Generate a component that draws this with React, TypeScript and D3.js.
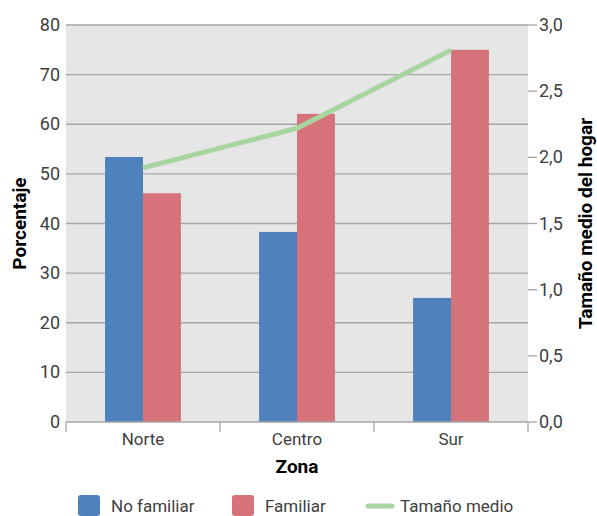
import React from 'react';
import * as d3 from 'd3';

const zonas = ['Norte', 'Centro', 'Sur'];
const noFamiliar = [53.4, 38.3, 25.0];
const familiar = [46.1, 62.1, 75.0];
const tamanoMedio = [1.92, 2.22, 2.81];
const leftTicks = [0, 10, 20, 30, 40, 50, 60, 70, 80];
const rightTicks = [0, 0.5, 1, 1.5, 2, 2.5, 3];

const W = 597;
const H = 516;
const margin = { top: 25, right: 69, bottom: 94, left: 66 };

const BLUE = '#4f81bd';
const RED = '#d6737a';
const GREEN = '#a8d4a0';
const TICK_FONT = 'Roboto, "Open Sans", sans-serif';

export default function App() {
  const x0 = margin.left;
  const x1 = W - margin.right;
  const y0 = H - margin.bottom;
  const y1 = margin.top;

  const xBand = d3.scaleBand<string>().domain(zonas).range([x0, x1]).paddingInner(0).paddingOuter(0);
  const inner = d3.scaleBand<string>().domain(['nf', 'f']).range([0, xBand.bandwidth()]).paddingInner(0).paddingOuter(1.03);
  const yLeft = d3.scaleLinear().domain([0, 80]).range([y0, y1]);
  const yRight = d3.scaleLinear().domain([0, 3]).range([y0, y1]);

  const line = d3
    .line<number>()
    .x((_, i) => (xBand(zonas[i]) || 0) + xBand.bandwidth() / 2)
    .y((d) => yRight(d));

  const fmtRight = (v: number) => v.toFixed(1).replace('.', ',');
  const bottomTicks = [x0, ...zonas.map((z) => (xBand(z) || 0) + xBand.bandwidth())];

  return (
    <svg width={W} height={H} style={{ position: 'absolute', left: 0, top: 0, background: '#fff' }}>
      <rect x={x0} y={y1} width={x1 - x0} height={y0 - y1} fill="#e6e6e6" />
      {leftTicks.slice(1).map((t) => (
        <line key={t} x1={x0} x2={x1} y1={yLeft(t)} y2={yLeft(t)} stroke="#a6a6a6" strokeWidth={1.3} />
      ))}

      {zonas.map((z, i) => (
        <g key={z}>
          <rect x={(xBand(z) || 0) + (inner('nf') || 0)} y={yLeft(noFamiliar[i])} width={inner.bandwidth()} height={y0 - yLeft(noFamiliar[i])} fill={BLUE} />
          <rect x={(xBand(z) || 0) + (inner('f') || 0)} y={yLeft(familiar[i])} width={inner.bandwidth()} height={y0 - yLeft(familiar[i])} fill={RED} />
        </g>
      ))}

      <path d={line(tamanoMedio) || ''} fill="none" stroke={GREEN} strokeWidth={5} strokeLinejoin="round" />

      {/* x axis */}
      <line x1={x0} x2={x1} y1={y0} y2={y0} stroke="#a6a6a6" strokeWidth={1.3} />
      {bottomTicks.map((t, i) => (
        <line key={i} x1={t} x2={t} y1={y0} y2={y0 + 10} stroke="#a6a6a6" strokeWidth={1.3} />
      ))}
      {zonas.map((z) => (
        <text key={z} x={(xBand(z) || 0) + xBand.bandwidth() / 2} y={y0 + 23} textAnchor="middle" fontFamily={TICK_FONT} fontSize={17} fill="#404040">
          {z}
        </text>
      ))}

      {/* left axis labels */}
      {leftTicks.map((t) => (
        <text key={t} x={x0 - 6} y={yLeft(t) + 6} textAnchor="end" fontFamily={TICK_FONT} fontSize={18} fill="#404040">
          {t}
        </text>
      ))}

      {/* right axis */}
      {rightTicks.map((t) => (
        <g key={t}>
          <line x1={x1} x2={x1 + 9} y1={yRight(t)} y2={yRight(t)} stroke="#a6a6a6" strokeWidth={1.3} />
          <text x={x1 + 11} y={yRight(t) + 6} fontFamily={TICK_FONT} fontSize={18} fill="#404040">
            {fmtRight(t)}
          </text>
        </g>
      ))}

      {/* axis titles */}
      <text x={(x0 + x1) / 2} y={y0 + 51} textAnchor="middle" fontFamily={TICK_FONT} fontWeight="bold" fontSize={19} fill="#000">
        Zona
      </text>
      <text transform={`translate(26,${(y0 + y1) / 2}) rotate(-90)`} textAnchor="middle" fontFamily={TICK_FONT} fontWeight="bold" fontSize={19} fill="#000">
        Porcentaje
      </text>
      <text transform={`translate(592,${(y0 + y1) / 2}) rotate(-90)`} textAnchor="middle" fontFamily={TICK_FONT} fontWeight="bold" fontSize={19} fill="#000">
        Tamaño medio del hogar
      </text>

      {/* legend */}
      <rect x={78} y={495} width={22} height={21} rx={3} fill={BLUE} />
      <text x={111} y={512} fontFamily={TICK_FONT} fontSize={17} fill="#404040">No familiar</text>
      <rect x={232} y={495} width={22} height={21} rx={3} fill={RED} />
      <text x={265} y={512} fontFamily={TICK_FONT} fontSize={17} fill="#404040">Familiar</text>
      <line x1={368} x2={392} y1={506} y2={506} stroke={GREEN} strokeWidth={5} strokeLinecap="round" />
      <text x={400} y={512} fontFamily={TICK_FONT} fontSize={17} fill="#404040">Tamaño medio</text>
    </svg>
  );
}
